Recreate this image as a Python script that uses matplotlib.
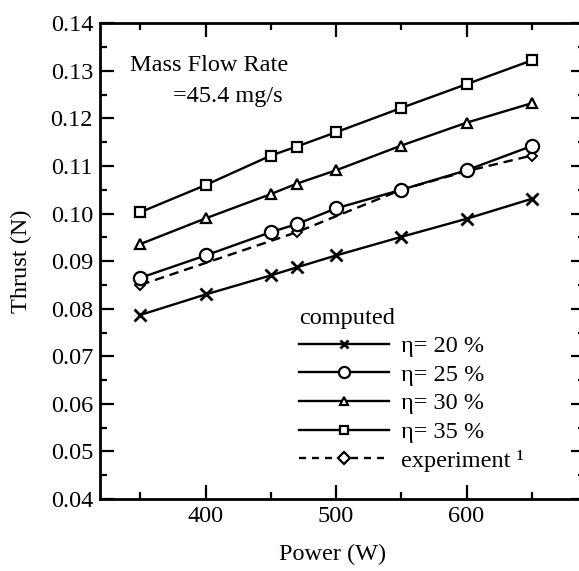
import matplotlib
matplotlib.use("Agg")
import matplotlib.pyplot as plt
from matplotlib.ticker import MultipleLocator
from matplotlib.lines import Line2D

plt.rcParams['font.family'] = ['Liberation Serif', 'DejaVu Serif']

# data
power = [350, 400, 450, 470, 500, 550, 600, 650]
eta20 = [0.0787, 0.0830, 0.0870, 0.0887, 0.0912, 0.0951, 0.0989, 0.1031]
eta25 = [0.0865, 0.0912, 0.0961, 0.0978, 0.1011, 0.1050, 0.1091, 0.1142]
eta30 = [0.0936, 0.0990, 0.1041, 0.1063, 0.1091, 0.1143, 0.1191, 0.1232]
eta35 = [0.1003, 0.1060, 0.1122, 0.1141, 0.1171, 0.1222, 0.1272, 0.1322]
exp_power = [350, 470, 550, 600, 650]
exp_thrust = [0.0850, 0.0961, 0.1050, 0.1089, 0.1122]
labels = ['η= 20 %', 'η= 25 %', 'η= 30 %', 'η= 35 %', 'experiment ¹']

fs = 17.5
fig = plt.figure(figsize=(5.79, 5.71), dpi=100)
ax = fig.add_axes([0.1727, 0.1261, 0.838, 0.8331])

lw = 1.7
ax.plot(exp_power, exp_thrust, color='black', lw=lw, ls=(0, (4, 2.5)),
        marker='D', ms=5.5, mfc='white', mec='black', mew=1.4, zorder=2)
ax.plot(power, eta20, color='black', lw=lw, marker='x', ms=8, mew=2.0, zorder=3)
ax.plot(power, eta25, color='black', lw=lw, marker='o', ms=9.5, mfc='white', mew=1.6, zorder=3)
ax.plot(power, eta30, color='black', lw=lw, marker='^', ms=7, mfc='white', mew=1.6, zorder=3)
ax.plot(power, eta35, color='black', lw=lw, marker='s', ms=6.5, mfc='white', mew=1.6, zorder=3)

ax.set_xlim(319, 691)
ax.set_ylim(0.04, 0.14)
ax.xaxis.set_major_locator(MultipleLocator(100))
ax.xaxis.set_minor_locator(MultipleLocator(50))
ax.yaxis.set_minor_locator(MultipleLocator(0.005))
ax.set_yticks([0.04 + 0.01 * i for i in range(11)])
ax.set_yticklabels(['%.2f' % (0.04 + 0.01 * i) for i in range(11)])
ax.tick_params(which='both', direction='in', top=True, right=True, labelsize=fs, width=1.6)
ax.tick_params(which='major', length=10, pad=5)
ax.tick_params(which='minor', length=5)
for s in ax.spines.values():
    s.set_linewidth(2.0)

ax.set_ylabel('Thrust (N)', fontsize=fs)
ax.yaxis.set_label_coords(-0.14, 0.5)
ax.set_xlabel('Power (W)', fontsize=fs)
ax.xaxis.set_label_coords(0.48, -0.095)

ax.text(0.062, 0.9, 'Mass Flow Rate', transform=ax.transAxes, fontsize=fs)
ax.text(0.15, 0.835, '=45.4 mg/s', transform=ax.transAxes, fontsize=fs)

handles = [
    Line2D([], [], color='black', lw=lw, marker='x', ms=6, mew=2.0),
    Line2D([], [], color='black', lw=lw, marker='o', ms=8, mfc='white', mew=1.6),
    Line2D([], [], color='black', lw=lw, marker='^', ms=6, mfc='white', mew=1.6),
    Line2D([], [], color='black', lw=lw, marker='s', ms=6, mfc='white', mew=1.6),
    Line2D([], [], color='black', lw=lw, ls=(0, (3, 2.5)), marker='D', ms=6, mfc='white', mew=1.6),
]
leg = ax.legend(handles, labels, title='computed', loc='upper left',
                bbox_to_anchor=(0.41, 0.402), frameon=False, fontsize=fs,
                title_fontsize=fs, handlelength=3.7, handletextpad=0.5,
                labelspacing=0.27, borderaxespad=0, borderpad=0)
leg._legend_box.align = 'left'

fig.savefig('out.png', dpi=100)
